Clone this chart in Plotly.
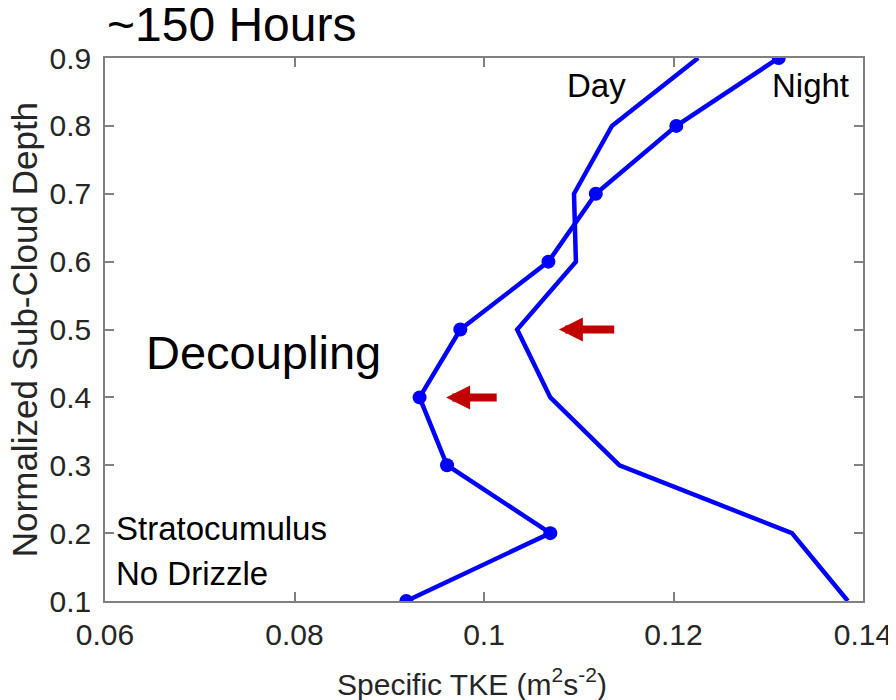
import plotly.graph_objects as go

depth = [0.1, 0.2, 0.3, 0.4, 0.5, 0.6, 0.7, 0.8, 0.9]
tke_day = [0.1384, 0.1325, 0.1143, 0.1070, 0.1035, 0.1097, 0.1095, 0.1135, 0.1226]
tke_night = [0.0918, 0.1070, 0.0961, 0.0932, 0.0975, 0.1068, 0.1118, 0.1203, 0.1311]
x_ticks = [0.06, 0.08, 0.1, 0.12, 0.14]
x_tick_labels = ["0.06", "0.08", "0.1", "0.12", "0.14"]
y_ticks = [0.1, 0.2, 0.3, 0.4, 0.5, 0.6, 0.7, 0.8, 0.9]
y_tick_labels = ["0.1", "0.2", "0.3", "0.4", "0.5", "0.6", "0.7", "0.8", "0.9"]
# arrows: (tail x, tip x, y)
arrows = [(0.1139, 0.1079, 0.5), (0.1015, 0.0960, 0.4)]

FONT = "Liberation Sans, Arial, Helvetica, sans-serif"
BLUE = "#0000ff"
AXC = "#808080"
TXC = "#262626"

fig = go.Figure()
fig.add_trace(go.Scatter(x=tke_day, y=depth, mode="lines",
                         line=dict(color=BLUE, width=4.5), showlegend=False))
fig.add_trace(go.Scatter(x=tke_night, y=depth, mode="lines+markers",
                         line=dict(color=BLUE, width=4.5),
                         marker=dict(color=BLUE, size=14, symbol="circle"),
                         showlegend=False))

for tail, tip, yv in arrows:
    fig.add_annotation(x=tip, y=yv, ax=tail, ay=yv, xref="x", yref="y",
                       axref="x", ayref="y", text="", showarrow=True,
                       arrowhead=2, arrowsize=0.6, arrowwidth=8,
                       arrowcolor="#c00000", standoff=0)

def txt(x, y, s, size, anchor="left"):
    fig.add_annotation(x=x, y=y, xref="x", yref="y", text=s, showarrow=False,
                       xanchor=anchor, yanchor="middle",
                       font=dict(family=FONT, size=size, color="black"))

txt(0.1119, 0.860, "Day", 33, "center")
txt(0.1345, 0.860, "Night", 33, "center")
txt(0.0767, 0.466, "Decoupling", 47, "center")
txt(0.0610, 0.207, "Stratocumulus", 33)
txt(0.0610, 0.141, "No Drizzle", 33)

# title
fig.add_annotation(x=0, y=1.061, xref="paper", yref="paper", text="~150 Hours",
                   showarrow=False, xanchor="left", yanchor="middle",
                   font=dict(family=FONT, size=48, color="black"))
# axis titles
fig.add_annotation(x=0.484, y=-0.149, xref="paper", yref="paper",
                   text="Specific TKE (m<sup>2</sup>s<sup>-2</sup>)",
                   showarrow=False, xanchor="center", yanchor="middle",
                   font=dict(family=FONT, size=30, color=TXC))
fig.add_annotation(x=-0.106, y=0.5, xref="paper", yref="paper",
                   text="Normalized Sub-Cloud Depth", textangle=-90,
                   showarrow=False, xanchor="center", yanchor="middle",
                   font=dict(family=FONT, size=35, color=TXC))

axis_common = dict(showline=True, linecolor=AXC, linewidth=1.5, mirror="ticks",
                   ticks="inside", ticklen=9, tickwidth=1.5, tickcolor=AXC,
                   showgrid=False, zeroline=False, automargin=False,
                   tickfont=dict(family=FONT, size=30, color=TXC))
fig.update_xaxes(range=[0.06, 0.14], tickvals=x_ticks, ticktext=x_tick_labels,
                 ticklabelstandoff=6, **axis_common)
fig.update_yaxes(range=[0.1, 0.9], tickvals=y_ticks, ticktext=y_tick_labels,
                 ticklabelstandoff=6, **axis_common)

# page body has an 8px margin; size the figure so the plot lands where the reference has it
fig.update_layout(width=888, height=692, plot_bgcolor="white", paper_bgcolor="white",
                  margin=dict(l=97, r=33, t=50, b=99, autoexpand=False))
fig.write_html("out.html")
